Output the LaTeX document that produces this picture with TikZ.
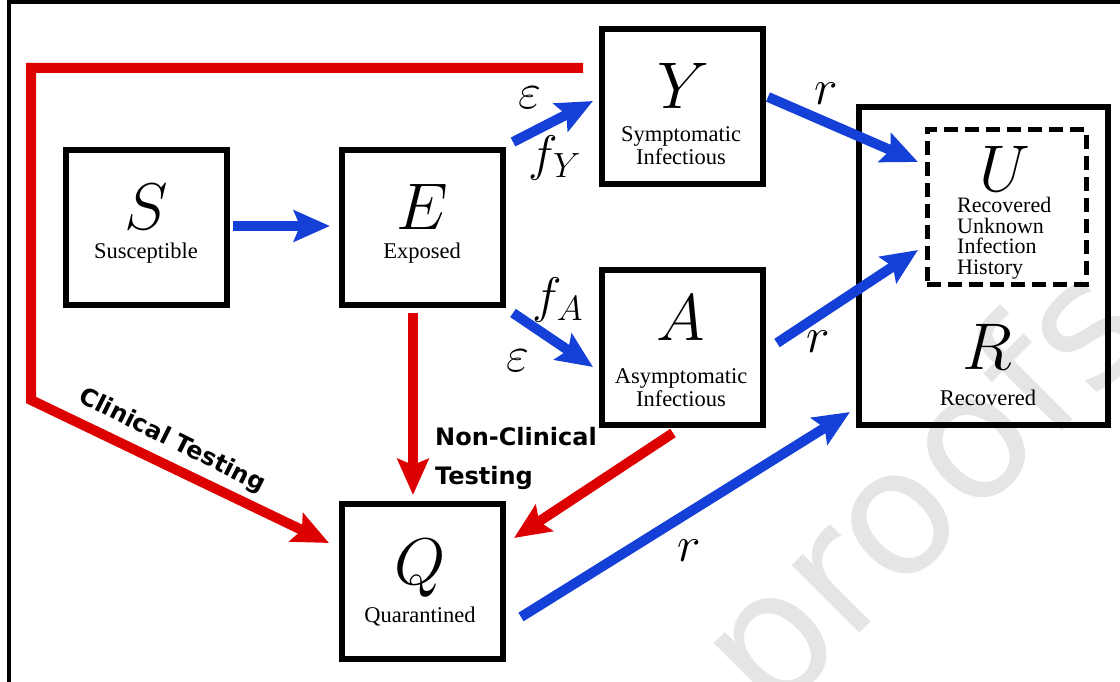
\RequirePackage{fix-cm}
\documentclass[tikz,border=0pt]{standalone}
\usepackage{fontspec}
\newfontfamily\djsans{DejaVu Sans}
\newfontfamily\lserif{Liberation Serif}
\usetikzlibrary{arrows.meta,calc}
\definecolor{fblue}{HTML}{1440D8}
\definecolor{fred}{HTML}{DD0000}
\tikzset{
  box/.style={draw=black,line width=6pt,minimum width=161pt,minimum height=155pt,inner sep=0pt,outer sep=0pt},
  ubox/.style={draw=black,line width=5pt,dash pattern=on 14pt off 7pt,minimum width=159pt,minimum height=154pt,inner sep=0pt,outer sep=0pt},
  big/.style={inner sep=0pt,font=\fontsize{66}{66}\selectfont},
  sub/.style={inner sep=0pt,align=center,font=\lserif\fontsize{22.5}{23}\selectfont},
  rate/.style={inner sep=0pt,font=\fontsize{50}{50}\selectfont},
  testlbl/.style={inner sep=0pt,font=\djsans\bfseries\fontsize{24}{26}\selectfont},
  barrow/.style={draw=fblue,line width=10pt,-{Stealth[length=36pt,width=31pt,inset=6pt]}},
  rarrow/.style={draw=fred,line width=10pt,miter limit=10,-{Stealth[length=36pt,width=31pt,inset=6pt]}}
}
\begin{document}
\begin{tikzpicture}[x=1pt,y=-1pt]
\useasboundingbox (0,0) rectangle (1120,682);
\clip (0,0) rectangle (1120,682);
% watermark
\node[anchor=base west,rotate=45,inner sep=0pt,text=black!10,font=\djsans\fontsize{175}{175}\selectfont] (wm) at (770,723) {proofs};
% frame
\draw[line width=4pt] (9,730) -- (9,2) -- (1140,2);
% boxes
\node[box] (S) at (146.5,227.5) {};
\node[box] (E) at (422.5,227.5) {};
\node[box] (Y) at (682.5,106.5) {};
\node[box] (A) at (682.5,347.5) {};
\node[box] (Q) at (422.5,581.5) {};
\node[box,minimum width=249pt,minimum height=318pt] (R) at (983.5,266) {};
\node[ubox] (U) at (1006.5,207) {};
% box texts
\node[big] (Sl) at (146,207) {$S$};
\node[sub] (St) at (146,253) {Susceptible};
\node[big] (El) at (422,207) {$E$};
\node[sub] (Et) at (422,253) {Exposed};
\node[big] (Yl) at (683,86) {$Y$};
\node[sub] (Yt) at (681,146) {Symptomatic\\Infectious};
\node[big] (Al) at (681,318) {$A$};
\node[sub] (At) at (681,388) {Asymptomatic\\Infectious};
\node[big] (Ql) at (420,568) {$Q$};
\node[sub] (Qt) at (420,617) {Quarantined};
\node[big] (Ul) at (1005,169) {$U$};
\node[sub,align=left,anchor=west,font=\lserif\fontsize{22}{20.5}\selectfont] (Ut) at (957,238) {Recovered\\Unknown\\Infection\\History};
\node[big] (Rl) at (987,347) {$R$};
\node[sub] (Rt) at (988,398) {Recovered};
% blue flows
\draw[barrow] ($(S.east)+(6,-1.5)$) -- ($(E.west)+(-12,-1.5)$);
\draw[barrow] ($(E.east)+(10,-85.5)$) -- ($(Y.west)+(-9,-5.5)$);
\draw[barrow] ($(E.east)+(10,85.5)$) -- ($(A.west)+(-9,19.5)$);
\draw[barrow] ($(Y.east)+(5,-9.5)$) -- ($(U.west)+(-9,-45)$);
\draw[barrow] ($(A.east)+(14,-4.5)$) -- ($(U.west)+(-9,43)$);
\draw[barrow] ($(Q.east)+(18,35.5)$) -- ($(R.south west)+(-9,-13)$);
% red flows
\draw[rarrow] ($(E.south)+(-9.5,8)$) -- ($(Q.north)+(-9.5,-9)$);
\draw[rarrow] ($(A.south)+(-9.5,8)$) -- ($(Q.east)+(11,-43.5)$);
\coordinate (ct0) at (583,68);
\coordinate (ct1) at (31,68);
\coordinate (ct2) at (31,400);
\draw[rarrow] (ct0) -- (ct1) -- (ct2) -- ($(Q.west)+(-13,-38.5)$);
% rate labels
\node[rate] (eps1) at (530,98) {$\varepsilon$};
\node[rate] (fY) at (555,158) {$f_Y$};
\node[rate] (fA) at (558,300) {$f_A$};
\node[rate] (eps2) at (518,361) {$\varepsilon$};
\node[rate] (r1) at (826,94) {$r$};
\node[rate] (r2) at (818,342) {$r$};
\node[rate] (r3) at (689,551) {$r$};
% testing labels
\node[testlbl,anchor=west] (nc1) at (435,437) {Non-Clinical};
\node[testlbl,anchor=west] (nc2) at (435,478) {Testing};
\node[testlbl,rotate=-26.5] (ct) at (172,441) {Clinical Testing};
\end{tikzpicture}
\end{document}
